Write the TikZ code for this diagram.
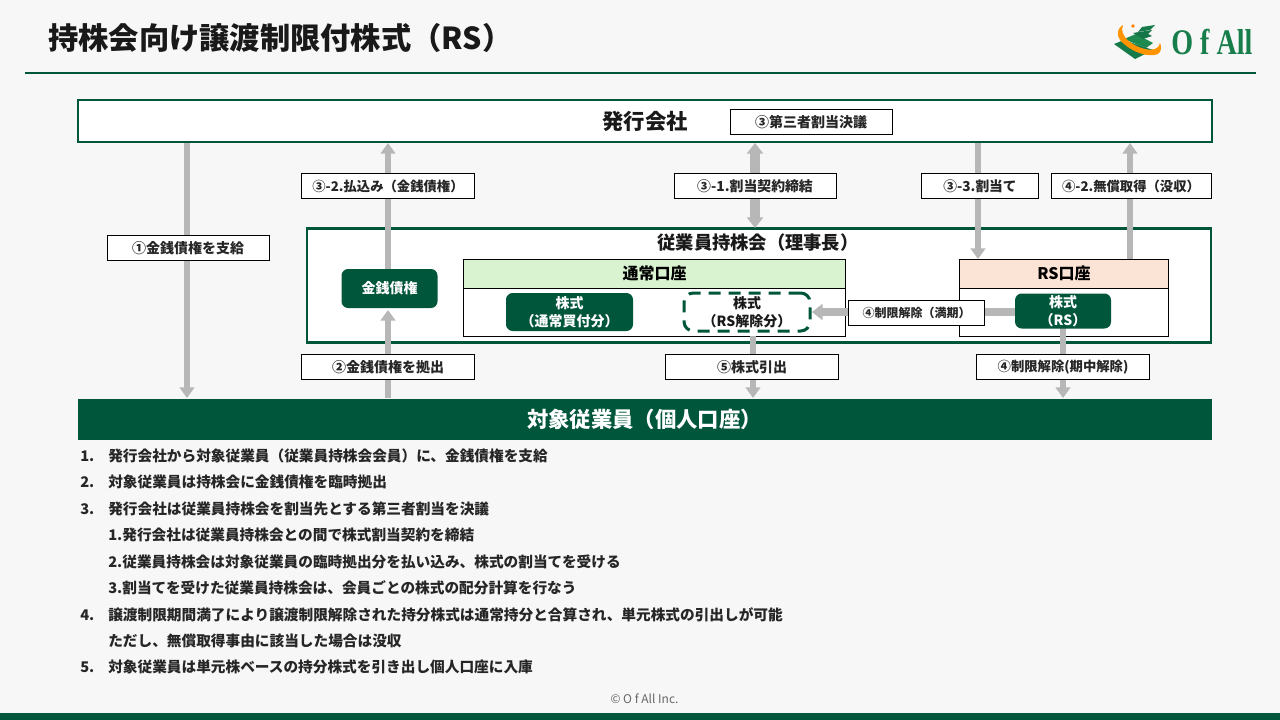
\documentclass[tikz,border=0pt]{standalone}
\usepackage{fontspec}
\usepackage{graphicx}
\setmainfont{Noto Sans CJK JP}
\newfontfamily\logofont{Liberation Serif}
\usetikzlibrary{arrows.meta,calc}
\definecolor{dg}{HTML}{00563B}
\definecolor{bgc}{HTML}{F7F7F7}
\definecolor{gar}{HTML}{B7B7B7}
\definecolor{lgreen}{HTML}{D9F2D0}
\definecolor{lpeach}{HTML}{FBE3D6}
\definecolor{logog}{HTML}{1F8A50}
\tikzset{
 x=0.75pt,y=-0.75pt,
 bar/.style={draw=dg,line width=1.5pt,fill=white},
 lbl/.style={draw=black,line width=0.75pt,fill=white,minimum height=18.75pt,inner sep=0pt,font=\fontsize{10.5}{12}\selectfont\bfseries,text=black!85},
 garrow/.style={draw=gar,line width=4.5pt,-{Triangle[length=8pt,width=11pt]}},
 solidbox/.style={fill=dg,draw=none,rounded corners=5pt,text=white,align=center,font=\fontsize{10.5}{13.5}\selectfont\bfseries,inner sep=0pt},
 item/.style={anchor=west,inner sep=0pt,font=\fontsize{11}{13}\selectfont\bfseries,text=black!85},
}
\begin{document}
\begin{tikzpicture}
\useasboundingbox (0,0) rectangle (1280,720);
\fill[bgc] (0,0) rectangle (1280,720);
\fill[dg] (0,713) rectangle (1280,720);
\node[anchor=west,inner sep=0pt,font=\fontsize{22.7}{26}\selectfont\bfseries,text=black!90] (title) at (48,38) {持株会向け譲渡制限付株式（RS）};
\draw[dg,line width=1.5pt] (25,73.5) -- (1256,73.5);
% logo
\fill[logog!70!dg] (1114,44) -- (1124,40) -- (1153,50) -- (1135,59) -- cycle;
\fill[logog] (1124,39) -- (1136,34) -- (1153,43) -- (1146,48) -- cycle;
\fill[logog!60!dg] (1133,33) -- (1152,30) -- (1148,34) -- (1152,36) -- (1143,39) -- cycle;
\fill[logog!70!dg] (1142,27) -- (1155,25) -- (1150,30) -- (1138,32) -- cycle;
\fill[orange!85!yellow] (1123,25) .. controls (1116,29) and (1116,38) .. (1124,44) .. controls (1133,52) and (1148,58) .. (1158,54) .. controls (1161,52) and (1162,47) .. (1160,43) .. controls (1159,49) and (1153,51) .. (1145,49) .. controls (1135,47) and (1118,37) .. (1123,25) -- cycle;
\fill[orange] (1133,26) circle (1.8);
\node[anchor=west,inner sep=0pt,font=\logofont\fontsize{27}{30}\selectfont\bfseries,text=logog!75!dg] (logotext) at (1171,42) {\scalebox{0.78}[1]{O f All}};
% top box
\node[bar,minimum width=1134*0.75pt,minimum height=42*0.75pt,inner sep=0pt] (issuer) at (644.5,121) {};
\node[font=\fontsize{16}{19}\selectfont\bfseries,text=black!90,inner sep=0pt] (issuerT) at (645,121) {発行会社};
\node[lbl,minimum width=162*0.75pt] (l3) at (811,122) {③第三者割当決議};
% ESOP
\node[bar,line width=1.75pt,minimum width=904*0.75pt,minimum height=114*0.75pt,inner sep=0pt] (esop) at (759,285.5) {};
\node[font=\fontsize{13.7}{16}\selectfont\bfseries,text=black!90,inner sep=0pt] (esopT) at (758,243) {従業員持株会（理事長）};
% Employee
\node[fill=dg,minimum width=1134*0.75pt,minimum height=41*0.75pt,inner sep=0pt,text=white,font=\fontsize{16}{19}\selectfont\bfseries] (emp) at (644.5,419) {対象従業員（個人口座）};
% coordinates
\coordinate (a1t) at (187,143); \coordinate (a1b) at (187,398);
\coordinate (a2t) at (388,143); \coordinate (a2b) at (388,269);
\coordinate (a3t) at (388,310); \coordinate (a3b) at (388,398);
\coordinate (a4t) at (755,143); \coordinate (a4b) at (755,228);
\coordinate (a5t) at (978,143); \coordinate (a5b) at (978,259);
\coordinate (a6t) at (1130,143); \coordinate (a6b) at (1130,259);
% accounts
\node[draw=black,line width=0.75pt,fill=white,minimum width=382*0.75pt,minimum height=77*0.75pt,inner sep=0pt] (acc1) at (654.5,298) {};
\node[draw=black,line width=0.75pt,fill=lgreen,minimum width=382*0.75pt,minimum height=29*0.75pt,inner sep=0pt,font=\fontsize{12}{14}\selectfont\bfseries] (acc1h) at (654.5,273.5) {通常口座};
\node[draw=black,line width=0.75pt,fill=white,minimum width=209*0.75pt,minimum height=77*0.75pt,inner sep=0pt] (acc2) at (1064,298) {};
\node[draw=black,line width=0.75pt,fill=lpeach,minimum width=209*0.75pt,minimum height=29*0.75pt,inner sep=0pt,font=\fontsize{12}{14}\selectfont\bfseries] (acc2h) at (1064,273.5) {RS口座};
% arrows
\draw[garrow] (a1t) -- (a1b);
\draw[garrow] (a2b) -- (a2t);
\draw[garrow] (a3b) -- (a3t);
\draw[draw=gar,line width=7pt,{Triangle[length=8pt,width=12pt]}-{Triangle[length=8pt,width=12pt]}] (a4t) -- (a4b);
\draw[garrow] (a5t) -- (a5b);
\draw[garrow] (a6b) -- (a6t);
\coordinate (w1) at (753,336); \coordinate (w2) at (753,398);
\draw[garrow] (w1) -- (w2);
\coordinate (r1) at (1063,328); \coordinate (r2) at (1063,398);
\draw[garrow] (r1) -- (r2);
\coordinate (m1) at (1016,312); \coordinate (m2) at (812,312);
\draw[draw=gar,line width=6pt,-{Triangle[length=8pt,width=12pt]}] (m1) -- (m2);
% inner boxes
\node[solidbox,minimum width=96*0.75pt,minimum height=39*0.75pt] (money) at (389.5,288.5) {金銭債権};
\node[solidbox,minimum width=127*0.75pt,minimum height=38*0.75pt] (st1) at (569.5,312) {株式\\（通常買付分）};
\node[draw=dg,line width=2.25pt,dash pattern=on 9pt off 6pt,rounded corners=7pt,fill=white,minimum width=126*0.75pt,minimum height=38*0.75pt,align=center,inner sep=0pt,font=\fontsize{10.5}{13.5}\selectfont\bfseries,text=black!90] (st2) at (747,312) {株式\\（RS解除分）};
\node[solidbox,minimum width=96*0.75pt,minimum height=35*0.75pt] (st3) at (1063,311) {株式\\（RS）};
% labels
\node[lbl,minimum width=162*0.75pt] (a) at (188,248) {①金銭債権を支給};
\node[lbl,minimum width=173*0.75pt,font=\fontsize{10}{12}\selectfont\bfseries] (b) at (388,186) {③-2.払込み（金銭債権）};
\node[lbl,minimum width=162*0.75pt,font=\fontsize{10.4}{12}\selectfont\bfseries] (c) at (755,186) {③-1.割当契約締結};
\node[lbl,minimum width=117*0.75pt,font=\fontsize{10.3}{12}\selectfont\bfseries] (d) at (980,186) {③-3.割当て};
\node[lbl,minimum width=160*0.75pt,font=\fontsize{10}{12}\selectfont\bfseries] (e) at (1131,186) {④-2.無償取得（没収）};
\node[lbl,minimum width=173*0.75pt] (f) at (388,367) {②金銭債権を拠出};
\node[lbl,minimum width=173*0.75pt] (g) at (752,367) {⑤株式引出};
\node[lbl,minimum width=173*0.75pt,font=\fontsize{10}{12}\selectfont\bfseries] (h) at (1063,367) {④制限解除(期中解除)};
\node[lbl,minimum width=136*0.75pt,font=\fontsize{9}{11}\selectfont\bfseries] (i) at (916.5,313) {④制限解除（満期）};
% list
\foreach \yy/\n/\t in {456/1./発行会社から対象従業員（従業員持株会会員）に、金銭債権を支給,
 482/2./対象従業員は持株会に金銭債権を臨時拠出,
 509/3./発行会社は従業員持株会を割当先とする第三者割当を決議,
 535/{}/1.発行会社は従業員持株会との間で株式割当契約を締結,
 562/{}/2.従業員持株会は対象従業員の臨時拠出分を払い込み、株式の割当てを受ける,
 588/{}/3.割当てを受けた従業員持株会は、会員ごとの株式の配分計算を行なう,
 615/4./譲渡制限期間満了により譲渡制限解除された持分株式は通常持分と合算され、単元株式の引出しが可能,
 641/{}/ただし、無償取得事由に該当した場合は没収,
 667/5./対象従業員は単元株ベースの持分株式を引き出し個人口座に入庫}
 {
 \node[item] at (80,\yy) {\n};
 \node[item] at (108,\yy) {\t};
 }
\node[font=\fontsize{9}{11}\selectfont,text=black!60,inner sep=0pt] (copy) at (644.5,699) {© O f All Inc.};
\end{tikzpicture}
\end{document}
